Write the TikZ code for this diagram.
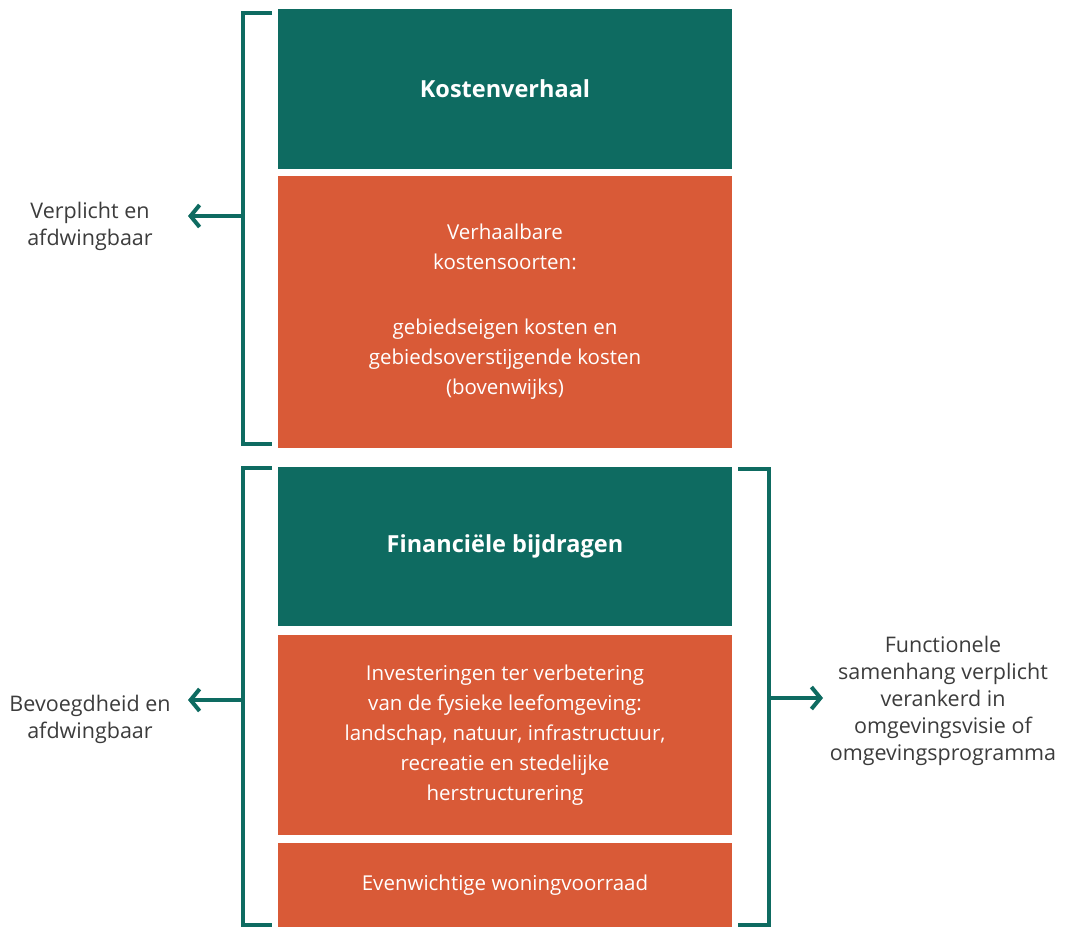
\documentclass[tikz,border=0pt]{standalone}
\usepackage{fontspec}
\setmainfont{Open Sans}
\usetikzlibrary{arrows.meta}
\definecolor{kgreen}{HTML}{0E6B61}
\definecolor{korange}{HTML}{D95A37}
\definecolor{ktext}{HTML}{3C3C3C}

\begin{document}
\begin{tikzpicture}[x=1pt,y=-1pt,
        gbox/.style={fill=kgreen,minimum width=454pt,inner sep=0pt,text=white,align=center,font=\fontsize{23.5}{30}\selectfont\bfseries},
        obox/.style={fill=korange,minimum width=454pt,inner sep=0pt,text=white,align=center,font=\fontsize{20.5}{30}\selectfont},
        side/.style={text=ktext,align=center,font=\fontsize{21.5}{27}\selectfont},
        brace/.style={draw=kgreen,line width=4pt},
        pointer/.style={draw=kgreen,line width=4pt,-{Straight Barb[length=9pt,width=22pt]}}]
        \useasboundingbox (0,0) rectangle (1070,927);

        \node[gbox,minimum height=160pt] (kv) at (505,89) {Kostenverhaal};
        \node[obox,minimum height=272pt] (vk) at (505,312) {Verhaalbare\\kostensoorten:\\[35pt]gebiedseigen kosten en\\gebiedsoverstijgende kosten\\(bovenwijks)};
        \node[gbox,minimum height=159pt] (fb) at (505,546.5) {Financiële bijdragen};
        \node[obox,minimum height=200pt] (iv) at (505,735) {Investeringen ter verbetering\\van de fysieke leefomgeving:\\landschap, natuur, infrastructuur,\\recreatie en stedelijke\\herstructurering};
        \node[obox,minimum height=84pt] (ew) at (505,885) {Evenwichtige woningvoorraad};

        \node[side] (vp) at (90,226.5) {Verplicht en\\afdwingbaar};
        \node[side] (bv) at (90,719.5) {Bevoegdheid en\\afdwingbaar};
        \node[side] (fs) at (943,701) {Functionele\\samenhang verplicht\\verankerd in\\omgevingsvisie of\\omgevingsprogramma};

        \coordinate (b1) at (243,216);
        \coordinate (t1) at (188,216);
        \coordinate (b2) at (243,700);
        \coordinate (t2) at (188,700);
        \coordinate (b3) at (769,698);
        \coordinate (t3) at (823,698);

        \draw[brace] (272,13) -- (243,13) -- (243,444) -- (272,444);
        \draw[brace] (272,468) -- (243,468) -- (243,925) -- (272,925);
        \draw[brace] (738,469) -- (769,469) -- (769,925) -- (738,925);

        \draw[pointer] (b1) -- (t1);
        \draw[pointer] (b2) -- (t2);
        \draw[pointer] (b3) -- (t3);
      \end{tikzpicture}
\end{document}
